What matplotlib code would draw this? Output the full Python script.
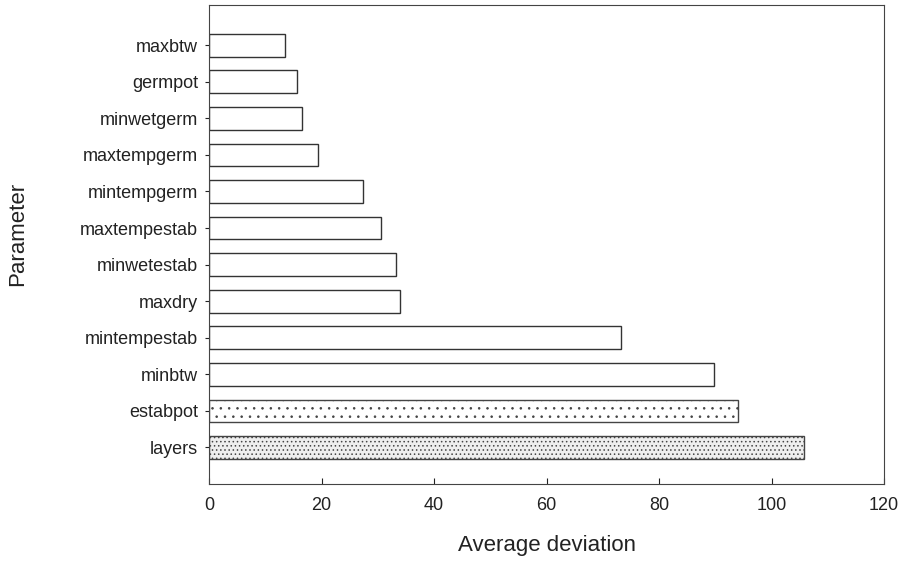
import matplotlib
matplotlib.use("Agg")
import matplotlib.pyplot as plt

plt.rcParams['font.family'] = ['Liberation Sans', 'DejaVu Sans']
plt.rcParams['hatch.linewidth'] = 0.6

parameters = ["layers", "estabpot", "minbtw", "mintempestab", "maxdry", "minwetestab",
              "maxtempestab", "mintempgerm", "maxtempgerm", "minwetgerm", "germpot", "maxbtw"]
deviation = [105.7, 94.1, 89.8, 73.3, 33.9, 33.3, 30.5, 27.3, 19.3, 16.6, 15.7, 13.5]
hatches = ["....", "..", "", "", "", "", "", "", "", "", "", ""]
fills = ["#eeeeee", "white", "white", "white", "white", "white",
         "white", "white", "white", "white", "white", "white"]
xticks = [0, 20, 40, 60, 80, 100, 120]

fig = plt.figure(figsize=(9.06, 5.66), dpi=100)
ax = fig.add_axes([209/906, 1-484/566, (884-209)/906, (484-5)/566])

ypos = list(range(len(parameters)))
bars = ax.barh(ypos, deviation, height=0.62, color=fills, edgecolor="#333333", linewidth=1.0)
for b, h in zip(bars, hatches):
    if h:
        b.set_hatch(h)
        b.set_edgecolor("#444444")

ax.set_xlim(0, 120)
ax.set_ylim(-1.0, 12.1)
ax.set_xticks(xticks)
ax.set_xticklabels([str(t) for t in xticks], fontsize=13)
ax.set_yticks(ypos)
ax.set_yticklabels(parameters, fontsize=13)
ax.tick_params(axis='x', direction='in', length=4, pad=9, colors="#222222")
ax.tick_params(axis='y', direction='out', length=3, pad=5, colors="#222222")
for s in ax.spines.values():
    s.set_color("#444444")
    s.set_linewidth(0.8)
ax.set_xlabel("Average deviation", fontsize=16, color="#222222")
ax.set_ylabel("Parameter", fontsize=16, color="#222222")
ax.xaxis.set_label_coords(0.5, -0.106)
ax.yaxis.set_label_coords(-0.268, 0.523)

fig.savefig("out.png", dpi=100)
